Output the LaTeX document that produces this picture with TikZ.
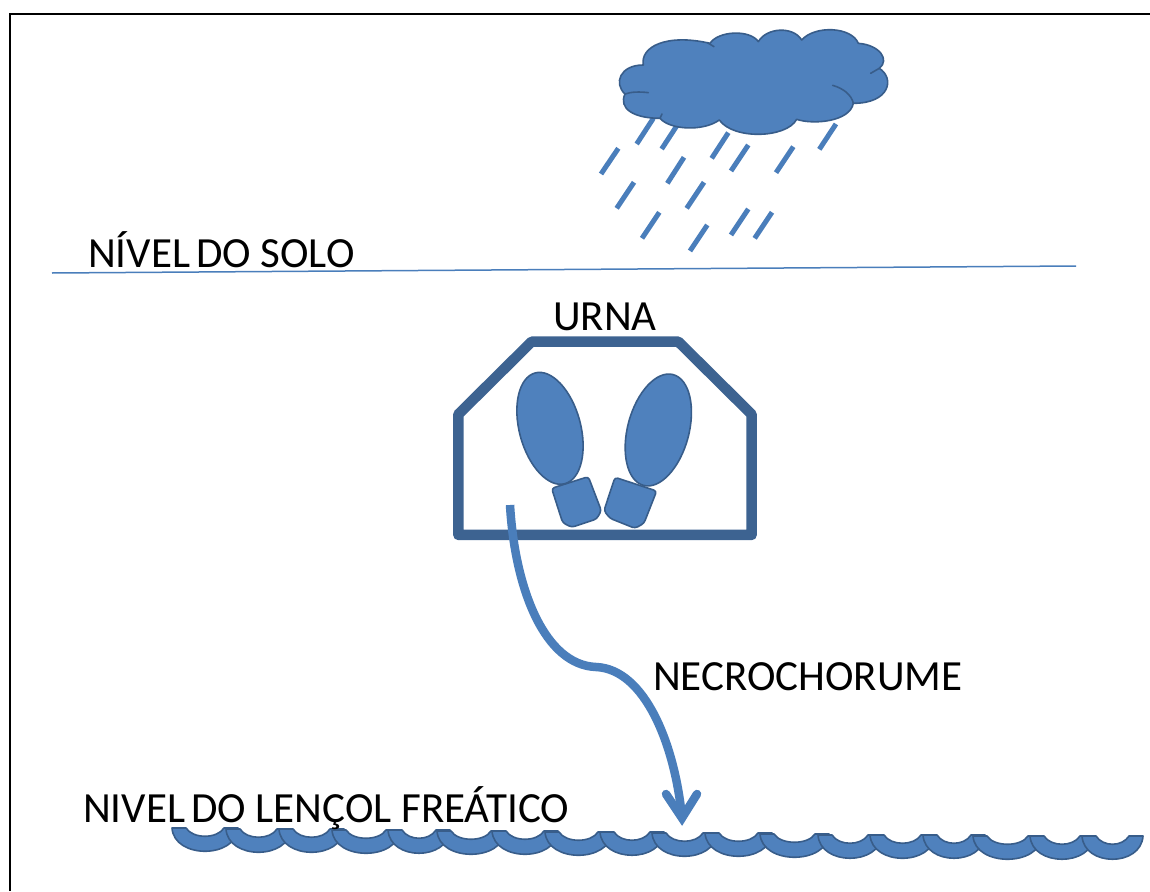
\documentclass[tikz,border=0pt]{standalone}
\usepackage{fontspec}
\setmainfont{Carlito}
\definecolor{shapeblue}{HTML}{4F81BD}
\definecolor{edgeblue}{HTML}{385D8A}
\definecolor{urnblue}{HTML}{3D6391}
\definecolor{flowblue}{HTML}{4A7EBB}
\tikzset{
  solid shape/.style={fill=shapeblue,draw=edgeblue,line width=1.6pt,line join=round},
  raindrop/.style={draw=flowblue,line width=5pt},
  caption/.style={anchor=base west,inner sep=0pt,font=\fontsize{43}{43}\selectfont,text=black},
  flow/.style={draw=flowblue,line width=8.5pt},
}
\begin{document}
\begin{tikzpicture}[x=1pt,y=-1pt]
\useasboundingbox (0,0) rectangle (1150,891);
\fill[white] (0,0) rectangle (1150,891);

% page frame
\coordinate (frameA) at (10,891);
\coordinate (frameB) at (10,14);
\coordinate (frameC) at (1150,14);
\draw[black,line width=2pt] (frameA) -- (frameB) -- (frameC);

% ground line
\coordinate (groundL) at (52,273);
\coordinate (groundR) at (1076,266);
\draw[flowblue,line width=1.5pt] (groundL) -- (groundR);

% rain
\begin{scope}[shift={(590,10)},x=0.3333pt,y=-0.3333pt]
\foreach \ax/\ay/\bx/\by in {190/325/140/402,262/345/215/417,85/415/33/492,415/368/365/445,475/405/423/483,282/442/232/520,610/410/558/488,738/342/688/418,132/517/80/595,342/517/290/595,208/607/156/685,352/645/300/723,475/597/423/675,546/607/494/685}
  \draw[raindrop] (\ax,\ay) -- (\bx,\by);

% cloud outline and its inner folds
\path[solid shape] (160,165)
  .. controls (150,110) and (230,70) .. (360,100)
  .. controls (385,62) and (480,58) .. (505,95)
  .. controls (530,52) and (610,48) .. (635,90)
  .. controls (675,45) and (785,50) .. (805,100)
  .. controls (870,105) and (900,150) .. (868,175)
  .. controls (915,205) and (900,280) .. (790,280)
  .. controls (780,335) and (670,345) .. (620,328)
  .. controls (590,385) and (430,390) .. (388,330)
  .. controls (340,365) and (240,360) .. (210,325)
  .. controls (130,325) and (85,295) .. (105,252)
  .. controls (70,220) and (90,165) .. (160,165) -- cycle;
\draw[edgeblue,line width=1.6pt,line cap=round]
  (105,252) .. controls (125,245) and (150,245) .. (175,248)
  (352,98) -- (372,110)
  (868,175) -- (842,190)
  (728,226) .. controls (760,235) and (785,255) .. (790,280)
  (210,325) -- (216,312);
\end{scope}

% urn body
\begin{scope}[shift={(440,320)},x=0.3333pt,y=-0.3333pt]
\coordinate (u1) at (55,283);
\coordinate (u2) at (275,65);
\coordinate (u3) at (715,65);
\coordinate (u4) at (935,283);
\coordinate (u5) at (935,645);
\coordinate (u6) at (55,645);
\draw[urnblue,line width=10.5pt,line join=round] (u1) -- (u2) -- (u3) -- (u4) -- (u5) -- (u6) -- cycle;

% left foot
\path[solid shape,rounded corners=3pt] (335,505) -- (445,470) -- (484,572) -- (470,597) -- (395,622) -- (368,608) -- cycle;
\path[solid shape,rotate around={15:(330,325)}] (330,325) ellipse [x radius=92,y radius=172];
% right foot
\path[solid shape,rounded corners=3pt] (525,472) -- (650,513) -- (612,610) -- (585,625) -- (510,595) -- (492,572) -- cycle;
\path[solid shape,rotate around={-15:(655,330)}] (655,330) ellipse [x radius=92,y radius=172];
\end{scope}

% seepage arrow
\coordinate (seepTop) at (510,505);
\coordinate (seepBend) at (596,667);
\coordinate (seepTip) at (682,818);
\coordinate (barbL) at (666,794);
\coordinate (barbR) at (697,794);
\draw[flow] (seepTop) .. controls (515,590) and (545,665) .. (seepBend)
  .. controls (645,669) and (675,745) .. (seepTip);
\draw[flow,line join=miter,line cap=round] (barbL) -- (seepTip) -- (barbR);

% water surface: a row of crescents
\foreach \a/\b/\c in {172/238/828,226/291/829,279/344/829,332/400/830,388/450/830,437/505/831,492/558/831,545/612/832,600/664/832,652/717/833,705/772/833,760/829/834,818/882/835,870/935/835,923/985/835,973/1042/836,1030/1094/836,1082/1143/836}
  \path[solid shape] (\a,\c) -- (\a+14,\c)
    .. controls (\a+21,\c+11) and (\b-21,\c+11) .. (\b-14,\c)
    -- (\b,\c)
    .. controls (\b-2,\c+31) and (\a+2,\c+31) .. (\a,\c) -- cycle;

% labels
\node[caption] (soil) at (88,267) {NÍVEL\hspace{-0.09em} DO SOLO};
\node[caption] (urn) at (553,330) {URNA};
\node[caption] (leachate) at (653,690) {NECROCHORUME};
\node[caption] (watertable) at (83,822) {NIVEL\hspace{-0.09em} DO LENÇOL FREÁTICO};
\end{tikzpicture}
\end{document}
